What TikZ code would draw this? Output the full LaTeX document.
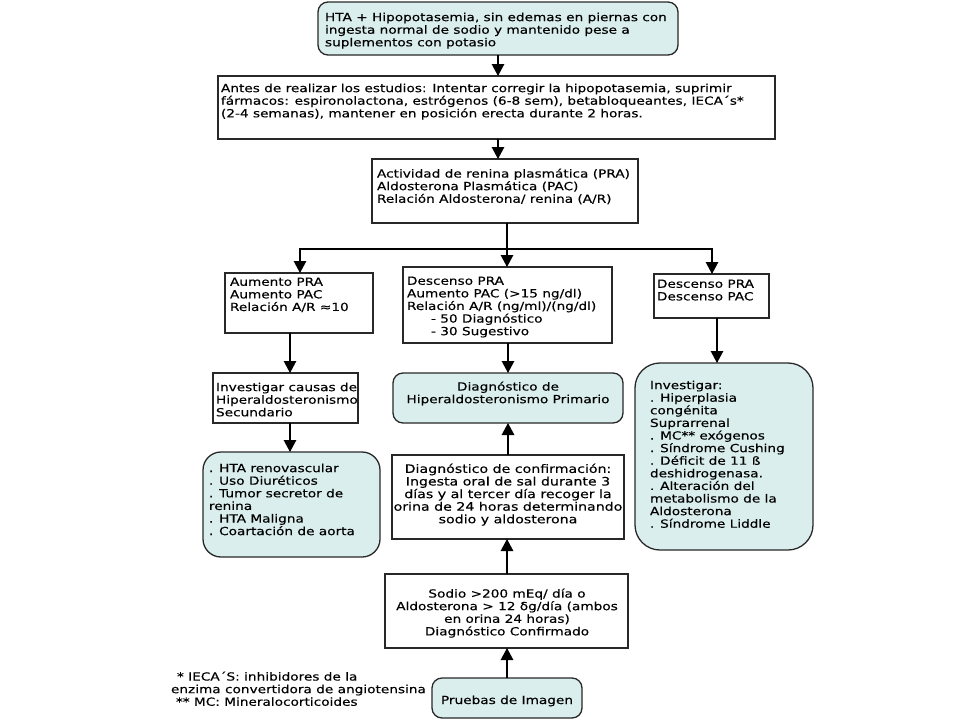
\documentclass[tikz,border=0pt]{standalone}
\usepackage{fontspec}
\setmainfont{DejaVu Sans}[FakeStretch=1.22,FakeBold=0.3]
\usetikzlibrary{arrows.meta}
\definecolor{boxfill}{RGB}{219,238,238}
\definecolor{boxline}{RGB}{40,40,40}
\begin{document}
\begin{tikzpicture}[x=1pt,y=-1pt,
  bx/.style={draw=boxline, line width=1.3pt, anchor=north west, inner sep=0pt, outer sep=0pt},
  rd/.style={bx, fill=boxfill, rounded corners=#1},
  rd/.default=10pt,
  txt/.style={inner sep=0pt, outer sep=0pt, font=\fontsize{11.2}{12.6}\selectfont, align=left, anchor=north west},
  ctxt/.style={txt, align=center, anchor=north},
  arr/.style={draw=black, line width=1.3pt, -{Triangle[length=12pt,width=12.5pt]}},
  ln/.style={draw=black, line width=1.3pt}]
\fill[white] (0,0) rectangle (960,720);
\useasboundingbox (0,0) rectangle (960,720);

% boxes
\node[rd, minimum width=360pt, minimum height=53pt] (b1) at (318,2) {};
\node[bx, minimum width=557pt, minimum height=63pt] (b2) at (218,76) {};
\node[bx, minimum width=266pt, minimum height=64pt] (b3) at (372,159) {};
\node[bx, minimum width=148pt, minimum height=60pt] (b4) at (225,273) {};
\node[bx, minimum width=209pt, minimum height=76pt] (b5) at (403,267) {};
\node[bx, minimum width=115pt, minimum height=44pt] (b6) at (654,274) {};
\node[bx, minimum width=145pt, minimum height=50pt] (b7) at (213,373) {};
\node[rd=18pt, minimum width=177pt, minimum height=105pt] (b8) at (203,452) {};
\node[rd, minimum width=230pt, minimum height=50pt] (b9) at (393,373) {};
\node[bx, minimum width=232pt, minimum height=84pt] (b10) at (392,455) {};
\node[bx, minimum width=243pt, minimum height=74pt] (b11) at (385,574) {};
\node[rd, minimum width=150pt, minimum height=40pt] (b12) at (432,678) {};
\node[rd=25pt, minimum width=178pt, minimum height=187pt] (b13) at (635,363) {};

% texts
\node[txt] (t1) at (325,12.6) {HTA + Hipopotasemia, sin edemas en piernas con\\ingesta normal de sodio y mantenido pese a\\suplementos con potasio};
\node[txt] (t2) at (221,83.6) {Antes de realizar los estudios: Intentar corregir la hipopotasemia, suprimir\\fármacos: espironolactona, estrógenos (6-8 sem), betabloqueantes, IECA´s*\\(2-4 semanas), mantener en posición erecta durante 2 horas.};
\node[txt] (t3) at (377,168.6) {Actividad de renina plasmática (PRA)\\Aldosterona Plasmática (PAC)\\Relación Aldosterona/ renina (A/R)};
\node[txt] (t4) at (230,277.6) {Aumento PRA\\Aumento PAC\\Relación A/R ≈10};
\node[txt] (t5) at (407,276.6) {Descenso PRA\\Aumento PAC (>15 ng/dl)\\Relación A/R (ng/ml)/(ng/dl)\\\hspace*{24pt}- 50 Diagnóstico\\\hspace*{24pt}- 30 Sugestivo};
\node[txt] (t6) at (657,279.6) {Descenso PRA\\Descenso PAC};
\node[txt] (t7) at (216,382.6) {Investigar causas de\\Hiperaldosteronismo\\Secundario};
\node[txt] (t8) at (209,463.6) {. HTA renovascular\\. Uso Diuréticos\\. Tumor secretor de\\renina\\. HTA Maligna\\. Coartación de aorta};
\node[ctxt] (t9) at (508,381.6) {Diagnóstico de\\Hiperaldosteronismo Primario};
\node[ctxt, font=\fontsize{11.6}{12.6}\selectfont] (t10) at (508,463.6) {Diagnóstico de confirmación:\\Ingesta oral de sal durante 3\\días y al tercer día recoger la\\orina de 24 horas determinando\\sodio y aldosterona};
\node[ctxt] (t11) at (507,588.6) {Sodio >200 mEq/ día o\\Aldosterona > 12 δg/día (ambos\\en orina 24 horas)\\Diagnóstico Confirmado};
\node[txt, anchor=base] (t12) at (507,704) {Pruebas de Imagen};
\node[txt] (t13) at (650,380.6) {Investigar:\\. Hiperplasia\\congénita\\Suprarrenal\\. MC** exógenos\\. Síndrome Cushing\\. Déficit de 11 ß\\deshidrogenasa.\\. Alteración del\\metabolismo de la\\Aldosterona\\. Síndrome Liddle};
\node[txt] (tf) at (171,671.6) {\hspace*{6pt}* IECA´S: inhibidores de la\\enzima convertidora de angiotensina\\\hspace*{5pt}** MC: Mineralocorticoides};

% connector columns
\coordinate (xa) at (498,0);
\coordinate (xm) at (507,0);
\coordinate (xn) at (508,0);
\coordinate (xl) at (300,0);
\coordinate (xc) at (290,0);
\coordinate (xr) at (712,0);
\coordinate (xd) at (717,0);
\coordinate (yh) at (0,249);

\draw[arr] (b1.south -| xa) -- (b2.north -| xa);
\draw[arr] (b2.south -| xa) -- (b3.north -| xa);
\draw[arr] (b3.south -| xm) -- (xm |- yh) -| (b4.north -| xl);
\draw[arr] (b3.south -| xm) -- (b5.north -| xm);
\draw[arr] (b3.south -| xm) -- (xm |- yh) -| (b6.north -| xr);
\draw[arr] (b4.south -| xc) -- (b7.north -| xc);
\draw[arr] (b7.south -| xc) -- (b8.north -| xc);
\draw[arr] (b5.south -| xn) -- (b9.north -| xn);
\draw[arr] (b10.north -| xn) -- (b9.south -| xn);
\draw[arr] (b11.north -| xm) -- (b10.south -| xm);
\draw[arr] (b12.north -| xm) -- (b11.south -| xm);
\draw[arr] (b6.south -| xd) -- (b13.north -| xd);
\end{tikzpicture}
\end{document}
